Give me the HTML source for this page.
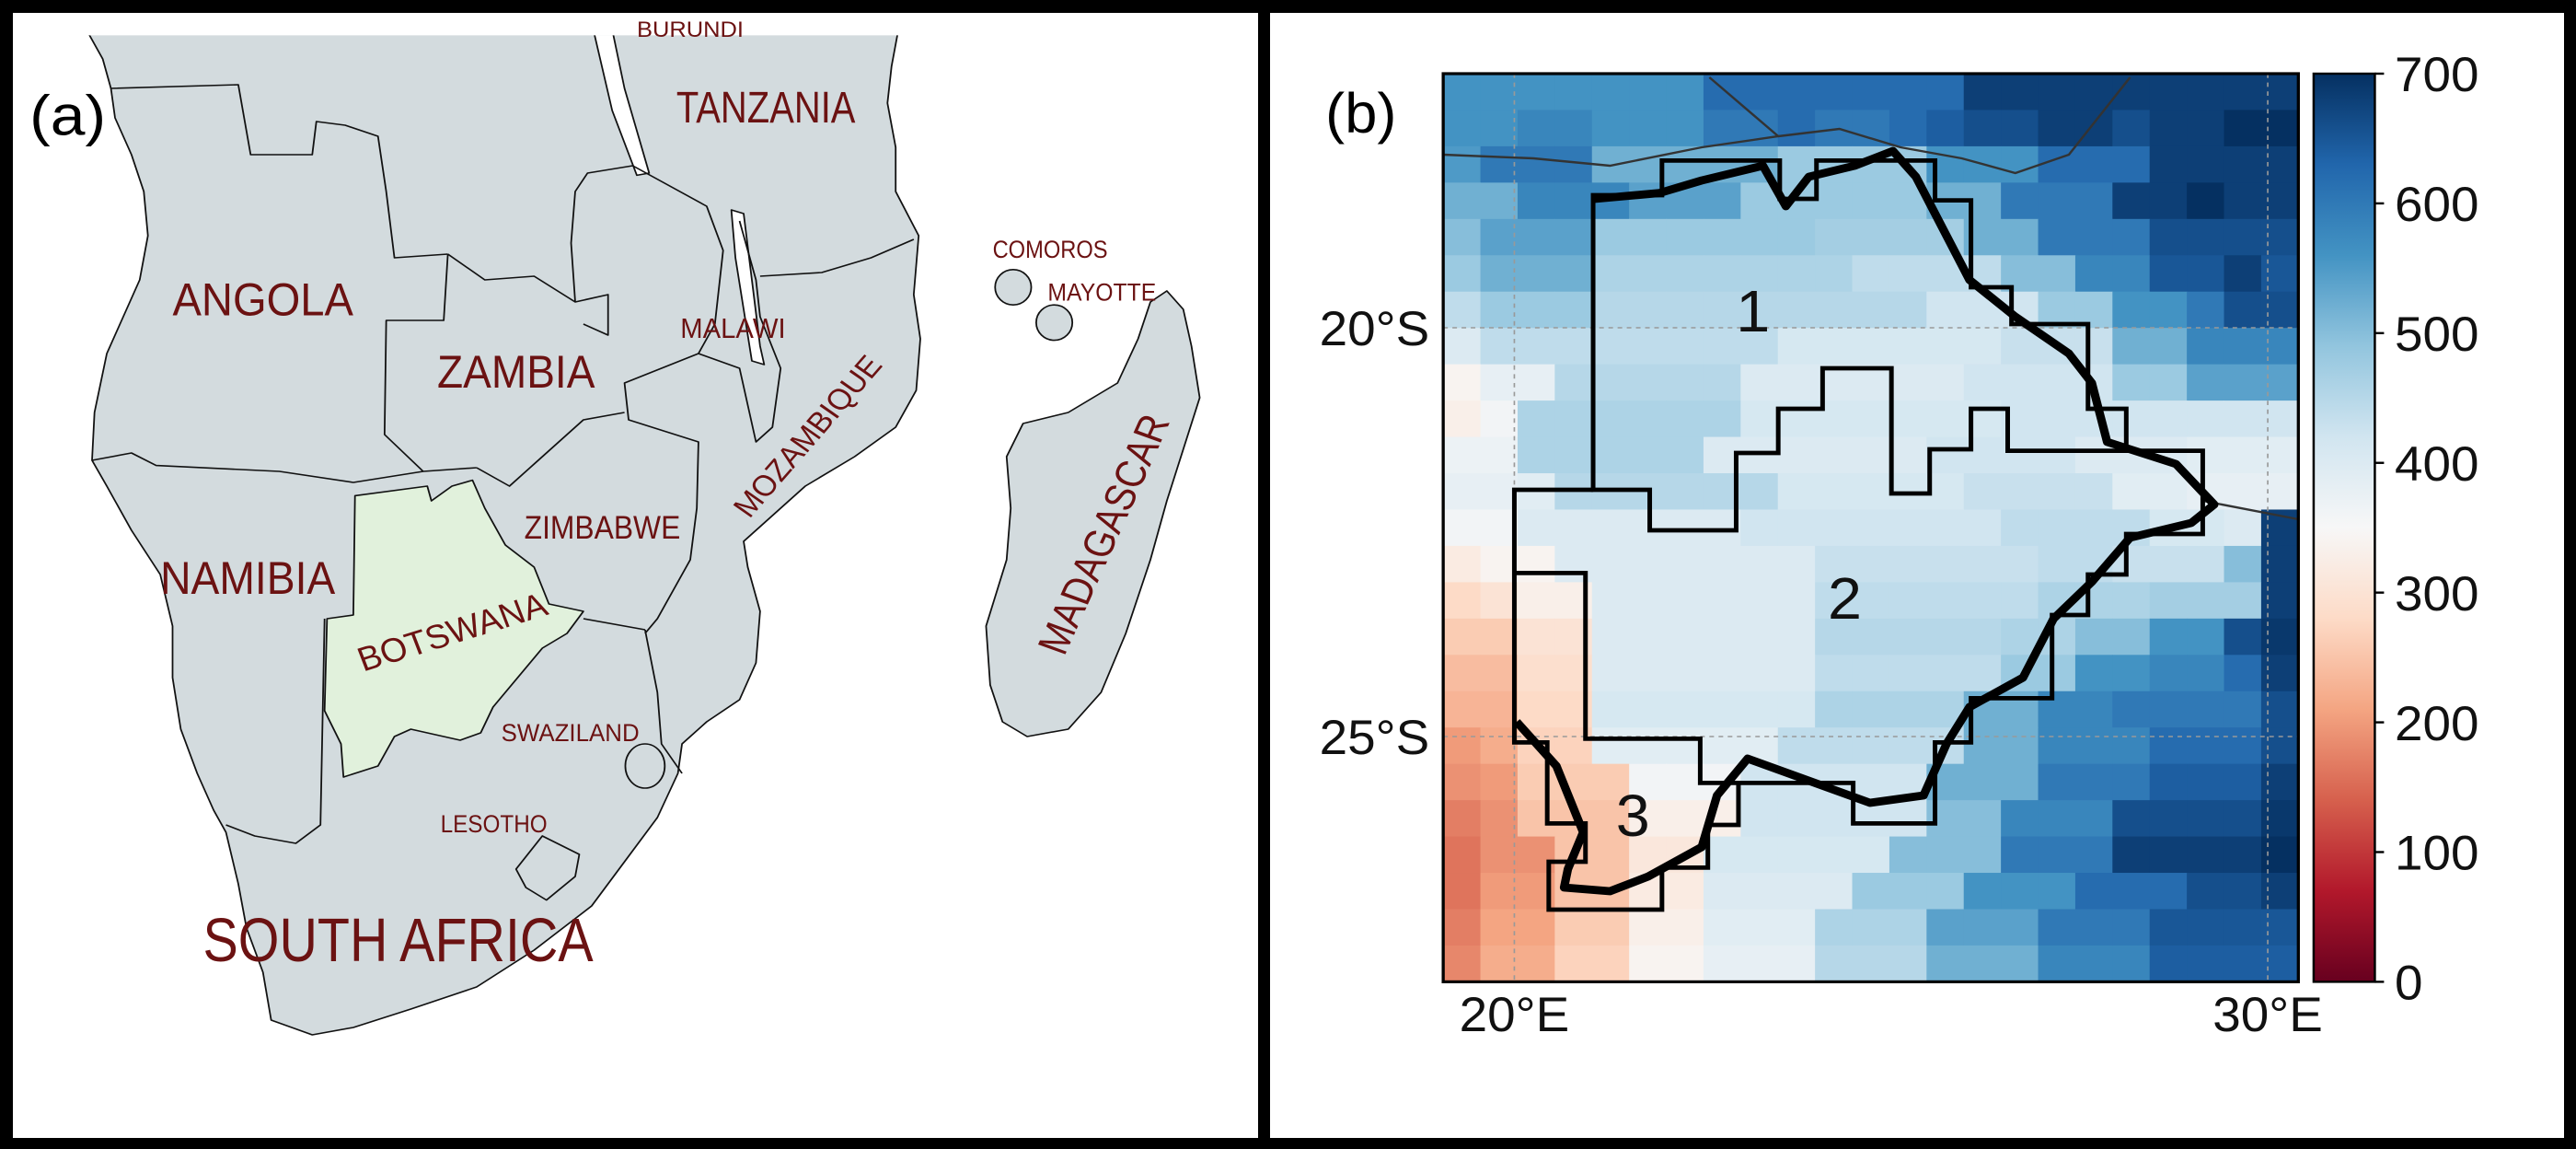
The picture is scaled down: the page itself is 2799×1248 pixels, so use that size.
<!DOCTYPE html>
<html><head><meta charset="utf-8"><style>
html,body{margin:0;padding:0;background:#fff}
body{width:2799px;height:1248px;position:relative;overflow:hidden;font-family:"Liberation Sans",sans-serif}
.fr{position:absolute;background:#000}
svg{position:absolute;overflow:visible}
</style></head><body>
<div class="fr" style="left:0;top:0;width:2799px;height:14px"></div>
<div class="fr" style="left:0;top:1236px;width:2799px;height:12px"></div>
<div class="fr" style="left:0;top:0;width:14px;height:1248px"></div>
<div class="fr" style="left:2786px;top:0;width:13px;height:1248px"></div>
<div class="fr" style="left:1367px;top:0;width:13px;height:1248px"></div>

<svg style="left:0;top:0" width="1400" height="1248" viewBox="0 0 1568 1560" preserveAspectRatio="none">
<defs><clipPath id="mapclip"><rect x="20" y="48" width="1510" height="1490"/></clipPath></defs>
<g clip-path="url(#mapclip)" stroke="#111" stroke-width="2" stroke-linejoin="round" fill="none">
<path fill="#d3dbde" d="M100,30 L125,80 L135,120 L140,160 L160,210 L175,260 L180,320 L170,380 L150,430 L130,480 L115,560 L112,625 L130,660 L160,720 L195,780 L210,850 L210,920 L220,990 L240,1050 L260,1100 L275,1130 L290,1200 L300,1260 L320,1320 L330,1385 L380,1405 L430,1395 L500,1370 L580,1340 L650,1290 L720,1230 L760,1170 L800,1110 L825,1050 L830,1010 L860,980 L900,950 L920,900 L925,830 L910,770 L905,735 L940,700 L980,660 L1040,620 L1090,580 L1115,530 L1120,460 L1112,400 L1118,320 L1090,260 L1090,200 L1080,140 L1085,90 L1095,30 Z"/>
<path fill="#fff" d="M722,40 L745,40 L760,120 L790,235 L775,238 L745,150 Z"/>
<path fill="#fff" d="M890,285 L905,290 L915,380 L925,470 L930,495 L915,490 L905,420 L895,350 Z"/>
<path fill="#e1f1dc" d="M432,673 L520,660 L525,680 L550,660 L575,652 L590,690 L615,740 L650,770 L668,820 L710,830 L690,860 L660,880 L630,920 L600,960 L585,995 L560,1005 L500,990 L480,1000 L460,1040 L418,1055 L415,1010 L395,965 L398,840 L430,835 Z"/>
<polyline points="135,120 290,115 305,210 380,210 385,165 420,170 460,185 470,260 480,350 545,345"/>
<polyline points="545,345 540,435 470,435 468,590 515,640"/>
<polyline points="112,625 160,615 190,632 340,640 430,655 515,640 580,635"/>
<polyline points="545,345 590,380 650,375 700,410 740,400 740,455 710,440"/>
<polyline points="700,410 695,330 700,260 715,235 770,225 860,280 880,340 870,440 850,480"/>
<polyline points="925,375 1000,370 1060,350 1112,325"/>
<polyline points="850,480 760,520 765,570 850,600 848,690 840,760 800,840 785,860"/>
<polyline points="580,635 620,660 650,630 710,570 760,560"/>
<polyline points="710,840 785,855"/>
<polyline points="785,855 800,940 805,1010 830,1050"/>
<polyline points="850,480 900,500 920,600 940,580 950,500 925,430 920,380 900,300"/>
<polyline points="395,840 390,1120 360,1145 310,1135 275,1120"/>
<ellipse cx="785" cy="1040" rx="24" ry="30" fill="#d3dbde"/>
<path fill="#d3dbde" d="M660,1135 L705,1160 L700,1190 L665,1222 L640,1205 L628,1180 Z"/>
<path fill="#d3dbde" d="M1420,395 L1440,420 L1450,470 L1460,540 L1440,610 L1420,680 L1400,760 L1370,860 L1340,940 L1300,990 L1250,1000 L1220,980 L1205,930 L1200,850 L1225,760 L1230,690 L1225,620 L1245,575 L1300,560 L1360,520 L1385,460 L1400,410 Z"/>
<ellipse cx="1233" cy="390" rx="22" ry="24" fill="#d3dbde"/>
<ellipse cx="1283" cy="438" rx="22" ry="24" fill="#d3dbde"/>
</g>
<g fill="#6b1212" font-family="Liberation Sans, sans-serif">
<text x="775" y="50" font-size="30" textLength="130" lengthAdjust="spacingAndGlyphs">BURUNDI</text>
<text x="823" y="166" font-size="60" textLength="218" lengthAdjust="spacingAndGlyphs">TANZANIA</text>
<text x="210" y="428" font-size="62" textLength="220" lengthAdjust="spacingAndGlyphs">ANGOLA</text>
<text x="532" y="526" font-size="62" textLength="192" lengthAdjust="spacingAndGlyphs">ZAMBIA</text>
<text x="828" y="459" font-size="38" textLength="128" lengthAdjust="spacingAndGlyphs">MALAWI</text>
<text x="1208" y="350" font-size="34" textLength="140" lengthAdjust="spacingAndGlyphs">COMOROS</text>
<text x="1275" y="408" font-size="34" textLength="132" lengthAdjust="spacingAndGlyphs">MAYOTTE</text>
<text x="195" y="806" font-size="62" textLength="213" lengthAdjust="spacingAndGlyphs">NAMIBIA</text>
<text x="638" y="731" font-size="44" textLength="190" lengthAdjust="spacingAndGlyphs">ZIMBABWE</text>
<text x="0" y="0" font-size="46" textLength="240" lengthAdjust="spacingAndGlyphs" transform="translate(442,912) rotate(-19)">BOTSWANA</text>
<text x="610" y="1006" font-size="34" textLength="168" lengthAdjust="spacingAndGlyphs">SWAZILAND</text>
<text x="536" y="1130" font-size="34" textLength="130" lengthAdjust="spacingAndGlyphs">LESOTHO</text>
<text x="247" y="1305" font-size="84" textLength="475" lengthAdjust="spacingAndGlyphs">SOUTH AFRICA</text>
<text x="0" y="0" font-size="40" textLength="265" lengthAdjust="spacingAndGlyphs" transform="translate(912,705) rotate(-52)">MOZAMBIQUE</text>
<text x="0" y="0" font-size="52" textLength="345" lengthAdjust="spacingAndGlyphs" transform="translate(1295,892) rotate(-68)">MADAGASCAR</text>
</g>
<text x="36" y="183" font-size="76" fill="#000" font-family="Liberation Sans, sans-serif">(a)</text>
</svg>

<svg id="pb" style="left:1500px;top:0" width="1299" height="1248" viewBox="0 0 1563 1560" preserveAspectRatio="none"></svg>

<script>
const rowsData = [
[560,560,560,560,560,560,560,620,620,620,620,620,620,620,680,680,680,680,680,680,680,680,680],
[560,560,580,580,560,560,560,600,600,620,600,600,620,640,660,660,680,680,660,680,680,700,700],
[550,600,600,600,520,520,520,520,520,480,480,480,480,560,560,560,620,620,620,680,680,680,680],
[520,520,580,580,580,540,540,540,480,480,480,480,480,520,520,600,600,600,680,680,700,680,680],
[500,540,540,540,480,480,480,480,480,480,470,470,470,470,520,520,600,600,600,660,660,660,660],
[480,520,520,520,460,460,460,460,460,460,460,440,440,440,440,500,500,580,580,650,650,680,650],
[440,480,480,480,450,450,450,450,450,450,450,450,450,420,420,420,480,480,560,560,600,660,660],
[400,440,440,440,440,440,440,440,440,410,410,410,410,410,410,430,430,430,520,520,580,580,580],
[340,380,380,450,450,450,450,450,400,400,400,400,400,400,420,420,420,420,480,480,540,540,540],
[330,360,460,460,460,460,460,460,410,410,410,410,410,410,410,420,420,420,420,420,420,420,420],
[370,370,460,460,460,460,460,400,400,400,400,400,400,420,420,420,420,400,400,400,390,390,390],
[380,380,390,450,450,450,450,450,450,410,410,410,410,410,430,430,430,430,390,390,380,380,380],
[360,360,400,400,400,400,400,400,420,420,420,420,420,420,420,440,440,440,440,410,410,400,680],
[320,340,340,400,400,400,400,400,400,400,430,430,430,430,430,430,440,440,430,430,430,500,680],
[280,300,330,330,400,400,400,400,400,400,440,440,440,440,440,440,460,460,460,470,470,470,680],
[260,260,300,300,400,400,400,400,400,400,450,450,450,450,450,460,460,500,500,560,560,660,690],
[240,240,290,290,400,400,400,400,400,400,440,440,440,440,440,480,480,560,560,580,580,620,680],
[230,230,280,280,410,410,410,410,410,410,460,460,460,460,520,520,580,580,600,600,600,600,660],
[200,220,270,270,390,390,390,390,390,440,440,440,440,440,520,520,580,580,580,620,620,620,660],
[190,200,260,260,260,360,360,360,420,420,420,420,420,520,520,520,600,600,600,640,640,640,680],
[170,190,250,250,250,330,330,330,420,420,420,420,420,500,500,580,580,580,660,660,660,660,690],
[160,190,190,250,250,310,310,410,410,410,410,410,500,500,500,600,600,600,680,680,680,680,700],
[160,200,200,250,250,320,320,400,400,400,400,480,480,480,560,560,560,620,620,620,660,660,680],
[170,210,210,260,260,330,330,390,390,390,460,460,460,540,540,540,600,600,600,650,650,650,650],
[180,220,220,270,270,340,340,380,380,380,450,450,450,520,520,520,580,580,580,640,640,640,640]
];
const cbTicks = [0,100,200,300,400,500,600,700];
const lonTicks = [20,30];
const latTicks = [20,25];
const regionLabels = ["1","2","3"];

const NS='http://www.w3.org/2000/svg';
const svg=document.getElementById('pb');
const X0=82,X1=1200,Y0=100,Y1=1333;
const nC=rowsData[0].length,nR=rowsData.length;
const cw=(X1-X0)/nC,ch=(Y1-Y0)/nR;
const xCell=c=>X0+c*cw, yCell=r=>Y0+r*ch;
const lonX=lon=>175+(lon-20)*(1160-175)/10;
const latY=lat=>445+(lat-20)*(1000-445)/5;
const vmax=700;
const cbY=v=>Y1-(v/vmax)*(Y1-Y0);
const stops=[[0,[103,0,31]],[.1,[178,24,43]],[.2,[214,96,77]],[.3,[244,165,130]],[.4,[253,219,199]],[.5,[247,247,247]],[.6,[209,229,240]],[.7,[146,197,222]],[.8,[67,147,195]],[.9,[33,102,172]],[1,[5,48,97]]];
function cmap(v){let t=Math.max(0,Math.min(1,v/vmax));for(let i=1;i<stops.length;i++){if(t<=stops[i][0]){const a=stops[i-1],b=stops[i];const f=(t-a[0])/(b[0]-a[0]);const c=a[1].map((x,k)=>Math.round(x+(b[1][k]-x)*f));return `rgb(${c})`;}}return 'rgb(5,48,97)';}
function mk(tag,attrs,parent){const e=document.createElementNS(NS,tag);for(const k in attrs)e.setAttribute(k,attrs[k]);(parent||svg).appendChild(e);return e;}

const cells=mk('g',{});


rowsData.forEach((row,r)=>row.forEach((v,c)=>{
  const e=mk('rect',{x:xCell(c),y:yCell(r),width:cw+0.6,height:ch+0.6,fill:cmap(v)},cells);
  
  
}));

const grid=mk('g',{stroke:'#999','stroke-width':2,'stroke-dasharray':'6,6',fill:'none'});


lonTicks.forEach(l=>mk('line',{x1:lonX(l),x2:lonX(l),y1:Y0,y2:Y1},grid));
latTicks.forEach(l=>mk('line',{x1:X0,x2:X1,y1:latY(l),y2:latY(l)},grid));

const thin=mk('g',{stroke:'#333','stroke-width':3,fill:'none'});


mk('polyline',{points:'82,210 200,215 300,225 420,200 520,185 600,175 680,200 760,215 830,235 900,210 980,105'},thin);
mk('polyline',{points:'430,105 520,185'},thin);
mk('polyline',{points:'1075,680 1200,705'},thin);

const reg=mk('g',{stroke:'#000','stroke-width':6,fill:'none','stroke-linejoin':'miter'});


mk('polygon',{points:'278,665 278,265 368,265 368,218 522,218 522,270 570,270 570,218 725,218 725,272 772,272 772,390 825,390 825,440 925,440 925,555 975,555 975,612 820,612 820,555 772,555 772,610 718,610 718,670 668,670 668,500 578,500 578,555 520,555 520,615 465,615 465,720 352,720 352,665'},reg);
mk('polyline',{points:'278,665 175,665 175,1008 218,1008 218,1118 268,1118 268,1170 220,1170 220,1235 368,1235 368,1178 428,1178 428,1120 468,1120 468,1063 618,1063 618,1118 725,1118 725,1008 772,1008 772,948 878,948 878,835 925,835 925,780 975,780 975,725 1075,725 1075,612 975,612'},reg);
mk('polyline',{points:'175,778 268,778 268,1003 418,1003 418,1063 468,1063'},reg);
const bw=mk('path',{d:'M280,270 L365,262 L420,245 L500,225 L530,280 L560,240 L620,225 L670,205 L700,240 L770,380 L830,430 L900,480 L930,520 L950,600 L1040,630 L1090,685 L1060,710 L980,730 L930,790 L880,840 L840,920 L770,960 L740,1010 L710,1080 L640,1090 L560,1060 L480,1030 L440,1080 L420,1150 L350,1190 L300,1210 L240,1205 L245,1180 L265,1130 L230,1040 L178,980',stroke:'#000','stroke-width':11,fill:'none','stroke-linejoin':'round'});



const fr=mk('rect',{x:X0,y:Y0,width:X1-X0,height:Y1-Y0,fill:'none',stroke:'#000','stroke-width':4});



const rpos=[[487,450],[607,840],[330,1135]];
regionLabels.forEach((t,i)=>{const e=mk('text',{x:rpos[i][0],y:rpos[i][1],'font-size':80,'text-anchor':'middle','font-family':'Liberation Sans, sans-serif',fill:'#111'});e.textContent=t;

});

const defs=mk('defs',{});const lg=mk('linearGradient',{id:'cbg',x1:0,y1:1,x2:0,y2:0},defs);
stops.forEach(s=>mk('stop',{offset:s[0],'stop-color':`rgb(${s[1]})`},lg));
const cb=mk('rect',{x:1220,y:cbY(vmax),width:80,height:cbY(0)-cbY(vmax),fill:'url(#cbg)',stroke:'#000','stroke-width':3});


cbTicks.forEach(v=>{
  const l=mk('line',{x1:1300,x2:1312,y1:cbY(v),y2:cbY(v),stroke:'#000','stroke-width':3});
  
  
  const t=mk('text',{x:1326,y:cbY(v)+24,'font-size':66,'font-family':'Liberation Sans, sans-serif',fill:'#111'});t.textContent=v;
  
  
});
lonTicks.forEach(l=>{const t=mk('text',{x:lonX(l),y:1400,'font-size':66,'text-anchor':'middle','font-family':'Liberation Sans, sans-serif',fill:'#111'});t.textContent=l+'°E';

});
latTicks.forEach(l=>{const t=mk('text',{x:64,y:latY(l)+24,'font-size':66,'text-anchor':'end','font-family':'Liberation Sans, sans-serif',fill:'#111'});t.textContent=l+'°S';

});
const pl=mk('text',{x:-72,y:180,'font-size':76,'font-family':'Liberation Sans, sans-serif',fill:'#000'});pl.textContent='(b)';


</script>
</body></html>
